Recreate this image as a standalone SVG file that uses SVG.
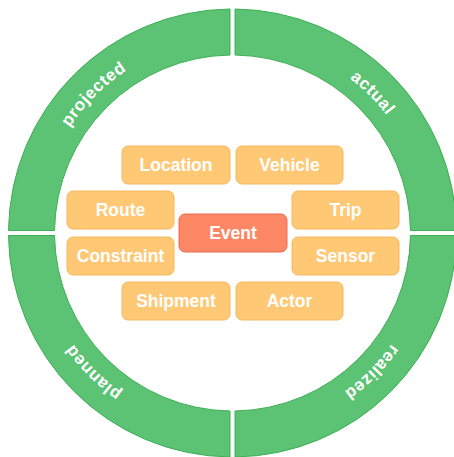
<svg xmlns="http://www.w3.org/2000/svg" width="454" height="457" viewBox="0 0 454 457">
<defs>
<style>
.seg{fill:#5cc374;stroke:#3daf55;stroke-width:1}
.rlab{font-family:"Liberation Sans",Arial,sans-serif;font-weight:bold;font-size:17px;fill:#ffffff;letter-spacing:0.6px}
.box{fill:#fec875;stroke:#f6b85c;stroke-width:1}
.ev{fill:#fb8764;stroke:#e96b4e;stroke-width:1}
.blab{font-family:"Liberation Sans",Arial,sans-serif;font-weight:bold;font-size:17.5px;fill:#ffffff;text-anchor:middle}
</style>
<path id="arcTL" d="M38.5 233 A194 194 0 0 1 232.5 39"/>
<path id="arcTR" d="M232.5 39 A194 194 0 0 1 426.5 233"/>
<path id="arcBR" d="M426.5 233 A194 194 0 0 1 232.5 427"/>
<path id="arcBL" d="M232.5 427 A194 194 0 0 1 38.5 233"/>
</defs>
<rect width="454" height="457" fill="#ffffff"/>
<g id="ring">
<g id="projected">
<path class="seg" d="M8.51 230.5 A224 224 0 0 1 230 9.01 L230 55.02 A178 178 0 0 0 54.52 230.5 Z"/>
<text class="rlab"><textPath href="#arcTL" startOffset="50%" text-anchor="middle">projected</textPath></text>
</g>
<g id="actual">
<path class="seg" d="M235 9.01 A224 224 0 0 1 456.49 230.5 L410.48 230.5 A178 178 0 0 0 235 55.02 Z"/>
<text class="rlab"><textPath href="#arcTR" startOffset="50%" text-anchor="middle">actual</textPath></text>
</g>
<g id="realized">
<path class="seg" d="M456.49 235.5 A224 224 0 0 1 235 456.99 L235 410.98 A178 178 0 0 0 410.48 235.5 Z"/>
<text class="rlab"><textPath href="#arcBR" startOffset="50%" text-anchor="middle">realized</textPath></text>
</g>
<g id="planned">
<path class="seg" d="M230 456.99 A224 224 0 0 1 8.51 235.5 L54.52 235.5 A178 178 0 0 0 230 410.98 Z"/>
<text class="rlab"><textPath href="#arcBL" startOffset="50%" text-anchor="middle">planned</textPath></text>
</g>
</g>
<g id="connectors"></g>
<g id="location"><rect class="box" x="122" y="146" width="108" height="38" rx="6"/><text class="blab" x="176" y="171">Location</text></g>
<g id="vehicle"><rect class="box" x="236" y="146" width="107" height="38" rx="6"/><text class="blab" x="289.5" y="171">Vehicle</text></g>
<g id="route"><rect class="box" x="67" y="191" width="107" height="38" rx="6"/><text class="blab" x="120.5" y="216">Route</text></g>
<g id="trip"><rect class="box" x="292" y="191" width="107" height="38" rx="6"/><text class="blab" x="345.5" y="216">Trip</text></g>
<g id="constraint"><rect class="box" x="67" y="237" width="107" height="38" rx="6"/><text class="blab" x="120.5" y="262">Constraint</text></g>
<g id="sensor"><rect class="box" x="292" y="237" width="107" height="38" rx="6"/><text class="blab" x="345.5" y="262">Sensor</text></g>
<g id="shipment"><rect class="box" x="122" y="282" width="108" height="38" rx="6"/><text class="blab" x="176" y="307">Shipment</text></g>
<g id="actor"><rect class="box" x="236" y="282" width="107" height="38" rx="6"/><text class="blab" x="289.5" y="307">Actor</text></g>
<g id="event"><rect class="ev" x="179" y="214" width="108" height="38" rx="6"/><text class="blab" x="233" y="239">Event</text></g>
</svg>
